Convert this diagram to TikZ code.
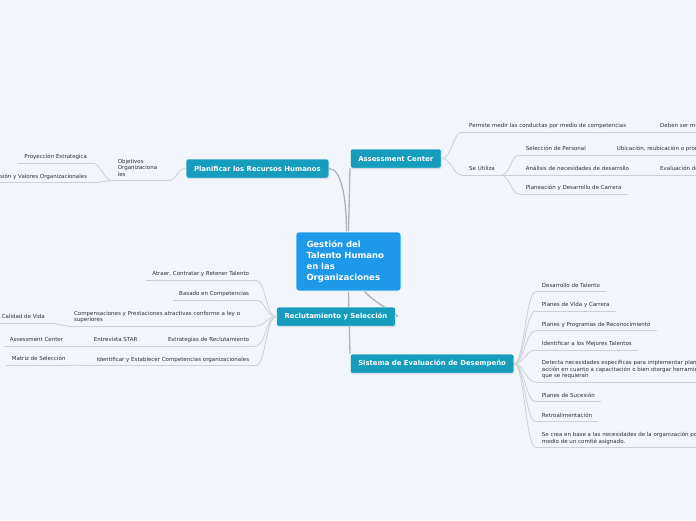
\documentclass[tikz,border=0pt]{standalone}
\usepackage{fontspec}
\setmainfont{DejaVu Sans}
\usetikzlibrary{shadows, backgrounds}
\definecolor{bgcol}{RGB}{243,245,253}
\definecolor{hubblue}{RGB}{30,152,233}
\definecolor{topicteal}{RGB}{22,156,188}
\definecolor{trunkgray}{RGB}{176,178,186}
\definecolor{twiggray}{RGB}{205,207,215}
\definecolor{leaftext}{RGB}{48,48,52}

\begin{document}
\begin{tikzpicture}[x=1pt, y=-1pt,
    hub/.style={fill=hubblue, draw=white, line width=0.6pt, rounded corners=3pt, text=white,
                font=\bfseries\fontsize{8.5}{10.9}\selectfont, align=left, text width=84pt,
                minimum height=59pt, inner xsep=10.5pt},
    topic/.style={fill=topicteal, draw=white, line width=0.5pt, rounded corners=2pt, text=white,
                  font=\bfseries\fontsize{6.9}{8}\selectfont, minimum height=19pt, inner xsep=8pt,
                  drop shadow={shadow xshift=0.5pt, shadow yshift=-1pt, opacity=0.25}},
    leaf/.style={font=\fontsize{5.5}{6.5}\selectfont, text=leaftext, align=left,
                 inner xsep=6pt, inner ysep=2.2pt,
                 execute at begin node=\strut, execute at end node=\strut},
    leafR/.style={leaf, anchor=south west},
    leafL/.style={leaf, anchor=south east},
    trunk/.style={draw=trunkgray, line width=1.3pt},
    twig/.style={draw=twiggray, line width=0.8pt}]

  \useasboundingbox (0,0) rectangle (696,520);

  % centre and main topics
  \node[hub] (hub) at (348.5,261.5) {Gestión del\\Talento Humano\\en las\\Organizaciones};
  \node[topic, anchor=east] (planif) at (329,168.5) {Planificar los Recursos Humanos};
  \node[topic, anchor=west] (assess) at (350,158.5) {Assessment Center};
  \node[topic] (recl) at (336,316.7) {Reclutamiento y Selección};
  \node[topic, anchor=west] (sistema) at (350,363.7) {Sistema de Evaluación de Desempeño};

  % Planificar
  \node[leafL, text width=44pt] (objet) at (168,180.7) {Objetivos\\Organizaciona\\les};
  \node[leafL] (proyec) at (93.3,163.3) {Proyección Estrategica};
  \node[leafL] (mision) at (93.3,182.7) {Misión, Visión y Valores Organizacionales};

  % Assessment Center
  \node[leafR] (permite) at (463,132) {Permite medir las conductas por medio de competencias};
  \node[leafR] (deben) at (654,132) {Deben ser medibles};
  \node[leafR] (seutil) at (463,175.3) {Se Utiliza};
  \node[leafR] (selec) at (519.7,155) {Selección de Personal};
  \node[leafR] (ubic) at (610.7,155) {Ubicación, reubicación o promoción};
  \node[leafR] (analis) at (519.7,175.3) {Análisis de necesidades de desarrollo};
  \node[leafR] (evalu) at (654,175.3) {Evaluación del desempeño};
  \node[leafR] (planea) at (519.7,194) {Planeación y Desarrollo de Carrera};

  % Reclutamiento
  \node[leafL] (atraer) at (255.3,280) {Atraer, Contratar y Retener Talento};
  \node[leafL] (basado) at (255.3,300) {Basado en Competencias};
  \node[leafL, text width=175pt] (compens) at (255.3,326)
    {Compensaciones y Prestaciones atractivas conforme a ley o\\superiores};
  \node[leafL] (calidad) at (51,323.3) {Calidad de Vida};
  \node[leafL] (estrat) at (255.3,346) {Estrategias de Reclutamiento};
  \node[leafL] (entrev) at (143.7,346) {Entrevista STAR};
  \node[leafL] (assess2) at (69.3,346) {Assessment Center};
  \node[leafL] (identif) at (255.3,365.7) {Identificar y Establecer Competencias organizacionales};
  \node[leafL] (matriz) at (71.7,365) {Matriz de Selección};

  % Sistema de Evaluacion
  \node[leafR] (desar) at (535.7,291.7) {Desarrollo de Talento};
  \node[leafR] (vida) at (535.7,311) {Planes de Vida y Carrera};
  \node[leafR] (progr) at (535.7,330.7) {Planes y Programas de Reconocimiento};
  \node[leafR] (mejor) at (535.7,350) {Identificar a los Mejores Talentos};
  \node[leafR] (detecta) at (535.7,382) {Detecta necesidades especificas para implementar planes de\\acción en cuanto a capacitación o bien otorgar herramientas\\que se requieran};
  \node[leafR] (suces) at (535.7,401.7) {Planes de Sucesión};
  \node[leafR] (retro) at (535.7,421.7) {Retroalimentación};
  \node[leafR] (secrea) at (535.7,447.5) {Se crea en base a las necesidades de la organización por\\medio de un comité asignado.};

  \begin{pgfonlayer}{background}
    \fill[bgcol] (0,0) rectangle (696,520);

    \draw[trunk] ([xshift=-2pt]hub.north) .. controls +(0,-35) and +(12,0) .. (planif.east);
    \draw[trunk] (hub.north) -- (assess.south west);
    \draw[trunk] (hub.south) -- (sistema.north west);
    \draw[trunk] ([xshift=16pt]hub.south) .. controls +(12,14) and +(9,0) .. (recl.east);

    \draw[twig] (planif.west) .. controls +(-9,0) and +(9,0) .. (objet.south east);
    \foreach \n in {proyec, mision}
      \draw[twig] (objet.south west) .. controls +(-6,0) and +(6,0) .. (\n.south east);

    \foreach \n in {permite, seutil}
      \draw[twig] (assess.east) .. controls +(11,0) and +(-11,0) .. (\n.south west);
    \draw[twig] (permite.south east) -- (deben.south west);
    \foreach \n in {selec, analis, planea}
      \draw[twig] (seutil.south east) .. controls +(9,0) and +(-9,0) .. (\n.south west);
    \draw[twig] (selec.south east) -- (ubic.south west);
    \draw[twig] (analis.south east) -- (evalu.south west);

    \foreach \n in {atraer, basado, compens, estrat, identif}
      \draw[twig] (recl.west) .. controls +(-11,0) and +(11,0) .. (\n.south east);
    \draw[twig] (compens.south west) .. controls +(-5,0) and +(5,0) .. (calidad.south east);
    \draw[twig] (estrat.south west) -- (entrev.south east);
    \draw[twig] (entrev.south west) -- (assess2.south east);
    \draw[twig] (identif.south west) -- (matriz.south east);

    \foreach \n in {desar, vida, progr, mejor, detecta, suces, retro, secrea}
      \draw[twig] (sistema.east) .. controls +(10,0) and +(-10,0) .. (\n.south west);

    % underlines
    \foreach \n in {objet, proyec, mision, permite, deben, seutil, selec, ubic, analis, evalu,
                    planea, atraer, basado, compens, calidad, estrat, entrev, assess2, identif,
                    matriz, desar, vida, progr, mejor, detecta, suces, retro, secrea}
      \draw[twig] (\n.south west) -- (\n.south east);
  \end{pgfonlayer}
\end{tikzpicture}
\end{document}
